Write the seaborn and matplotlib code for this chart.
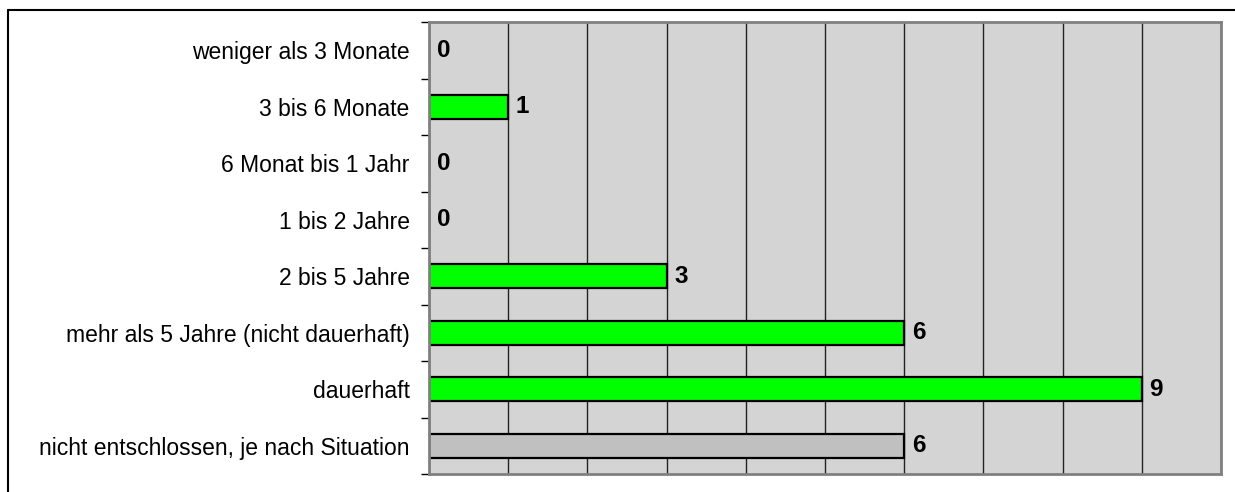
import matplotlib
matplotlib.use("Agg")
import matplotlib.pyplot as plt
from matplotlib.lines import Line2D
import seaborn as sns
import pandas as pd
import numpy as np

categories = [
    "weniger als 3 Monate",
    "3 bis 6 Monate",
    "6 Monat bis 1 Jahr",
    "1 bis 2 Jahre",
    "2 bis 5 Jahre",
    "mehr als 5 Jahre (nicht dauerhaft)",
    "dauerhaft",
    "nicht entschlossen, je nach Situation",
]
values = [0, 1, 0, 0, 3, 6, 9, 6]
bar_colors = ["#00FF00"] * 7 + ["#C0C0C0"]

sns.set_theme(style="white")
plt.rcParams["font.family"] = ["Liberation Sans", "DejaVu Sans"]

df = pd.DataFrame({"cat": categories, "val": values})

fig = plt.figure(figsize=(12.35, 4.92), dpi=100)
ax = fig.add_axes([429 / 1235, 1 - 474 / 492, (1221 - 429) / 1235, (474 - 22) / 492])
ax.set_facecolor("#d4d4d4")

sns.barplot(data=df, x="val", y="cat", hue="cat", palette=bar_colors,
            orient="h", width=0.42, edgecolor="black", linewidth=1.6,
            legend=False, ax=ax, saturation=1)

ax.set_xlim(0, 10)
ax.set_ylim(len(categories) - 0.5, -0.5)
ax.set_xticks(np.arange(0, 11, 1))
ax.set_xticklabels([])
ax.tick_params(axis="x", length=0)
ax.grid(axis="x", color="#222222", linewidth=1.0)
ax.grid(axis="y", visible=False)
ax.set_axisbelow(True)

ax.set_yticks(range(len(categories)))
ax.set_yticklabels(categories, fontsize=16.5, color="black")
ax.tick_params(axis="y", which="major", length=0, pad=14)
ax.set_yticks(np.arange(-0.5, len(categories), 1), minor=True)
ax.tick_params(axis="y", which="minor", length=6, width=1.0, color="black", direction="out", left=True)
ax.set_xlabel("")
ax.set_ylabel("")

for s in ax.spines.values():
    s.set_color("#808080")
    s.set_linewidth(2)
    s.set_visible(True)

for i, v in enumerate(values):
    ax.annotate(str(v), xy=(v, i), xytext=(5.5, 0), textcoords="offset points",
                ha="left", va="center", fontsize=17.5, fontweight="bold", color="black")

fig.add_artist(Line2D([8 / 1235, 1.0], [1 - 10 / 492, 1 - 10 / 492], color="black", linewidth=1.5,
                      transform=fig.transFigure))
fig.add_artist(Line2D([8 / 1235, 8 / 1235], [1 - 10 / 492, 0.0], color="black", linewidth=1.5,
                      transform=fig.transFigure))

fig.savefig("out.png", dpi=100, facecolor="white")
